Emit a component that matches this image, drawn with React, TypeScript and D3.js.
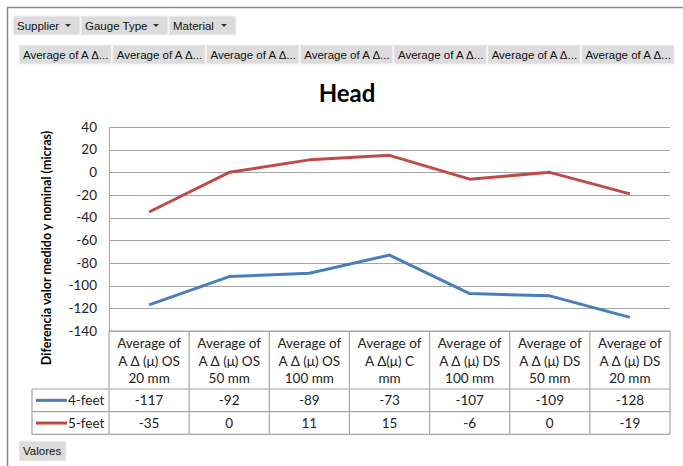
import React, { useEffect, useRef } from "react";
import * as d3 from "d3";

// chart data
const categories = [
  ["Average of", "A Δ (μ) OS", "20 mm"],
  ["Average of", "A Δ (μ) OS", "50 mm"],
  ["Average of", "A Δ (μ) OS", "100 mm"],
  ["Average of", "A Δ(μ) C", "mm"],
  ["Average of", "A Δ (μ) DS", "100 mm"],
  ["Average of", "A Δ (μ) DS", "50 mm"],
  ["Average of", "A Δ (μ) DS", "20 mm"],
];
const fourFeet = [-117, -92, -89, -73, -107, -109, -128];
const fiveFeet = [-35, 0, 11, 15, -6, 0, -19];
const yTicks = [40, 20, 0, -20, -40, -60, -80, -100, -120, -140];
const filterButtons = ["Supplier", "Gauge Type", "Material"];
const fieldButtons = Array(7).fill("Average of A Δ...");

const series = [
  { name: "4-feet", values: fourFeet, color: "#4a7ebb" },
  { name: "5-feet", values: fiveFeet, color: "#be4b48" },
];

const App = () => {
  const svgRef = useRef(null);
  const width = 683;
  const height = 466;

  useEffect(() => {
    const svg = d3.select(svgRef.current);
    svg.selectAll("*").remove();
    const font = "Lato, 'Liberation Sans', sans-serif";
    const grid = "#a6a6a6";

    svg.append("rect").attr("width", width).attr("height", height).attr("fill", "#fff");

    // outer frame (only top and left visible)
    svg.append("path")
      .attr("d", `M7.5,${height} V7.5 H${width}`)
      .attr("fill", "none")
      .attr("stroke", "#8c8c8c")
      .attr("stroke-width", 1.5);

    // pivot buttons
    const drawButton = (x, y, w, h, label, arrow) => {
      const g = svg.append("g");
      g.append("rect").attr("x", x).attr("y", y).attr("width", w).attr("height", h)
        .attr("fill", "#dcdcdc").attr("stroke", "#f4f4f4").attr("stroke-width", 1);
      g.append("text").attr("x", x + 4).attr("y", y + h / 2 + 4)
        .attr("font-family", "'Liberation Sans', sans-serif").attr("font-size", 11.5)
        .attr("fill", "#111").text(label);
      if (arrow) {
        const ax = x + w - 12;
        const ay = y + h / 2;
        g.append("path").attr("d", `M${ax - 3},${ay - 1.5} L${ax + 3},${ay - 1.5} L${ax},${ay + 1.5} Z`)
          .attr("fill", "#333");
      }
    };
    const filterX = [13, 81, 169];
    const filterW = [67, 87, 67];
    filterButtons.forEach((b, i) => drawButton(filterX[i], 16, filterW[i], 19, b, true));
    const fx = d3.scaleBand().domain(d3.range(7)).range([19, 674]).paddingInner(0.012);
    fieldButtons.forEach((b, i) => drawButton(fx(i), 45, fx.bandwidth(), 19, b, false));
    drawButton(19, 441, 47, 20, "Valores", false);

    // scales
    const x = d3.scaleBand().domain(d3.range(categories.length)).range([109, 670]);
    const y = d3.scaleLinear().domain([-140, 40]).range([331, 127]);

    // title
    svg.append("text").attr("x", 347).attr("y", 102).attr("text-anchor", "middle")
      .attr("font-family", font).attr("font-weight", "bold").attr("font-size", 24)
      .text("Head");

    // gridlines
    svg.append("g").selectAll("line").data(yTicks).join("line")
      .attr("x1", x.range()[0]).attr("x2", x.range()[1])
      .attr("y1", (d) => Math.round(y(d)) + 0.5).attr("y2", (d) => Math.round(y(d)) + 0.5)
      .attr("stroke", grid).attr("stroke-width", 1);
    svg.append("line")
      .attr("x1", x.range()[0] + 0.5).attr("x2", x.range()[0] + 0.5)
      .attr("y1", y(40)).attr("y2", y(-140))
      .attr("stroke", grid);

    // y tick labels
    svg.append("g").selectAll("text").data(yTicks).join("text")
      .attr("x", 97).attr("y", (d) => y(d) + 4.5).attr("text-anchor", "end")
      .attr("font-family", font).attr("font-size", 13.5).attr("fill", "#222")
      .text((d) => d);

    // y axis title
    svg.append("text")
      .attr("transform", "translate(51,248) rotate(-90)")
      .attr("text-anchor", "middle")
      .attr("font-family", font).attr("font-weight", "bold").attr("font-size", 12.5)
      .text("Diferencia valor medido y nominal (micras)");

    // lines
    const line = d3.line().x((d, i) => x(i) + x.bandwidth() / 2).y((d) => y(d));
    series.forEach((s) => {
      svg.append("path").datum(s.values).attr("d", line)
        .attr("fill", "none").attr("stroke", s.color).attr("stroke-width", 3)
        .attr("stroke-linejoin", "round");
    });

    // data table
    const top = 331;
    const headBottom = 389;
    const rowH = 22.7;
    const tableLeft = 32;
    const tg = svg.append("g").attr("stroke", grid).attr("stroke-width", 1.2).attr("fill", "none");
    // vertical lines for category columns
    d3.range(categories.length + 1).forEach((i) => {
      const xx = i < categories.length ? x(i) : x.range()[1];
      tg.append("line").attr("x1", xx).attr("x2", xx).attr("y1", top).attr("y2", headBottom + rowH * 2);
    });
    tg.append("line").attr("x1", x.range()[0]).attr("x2", x.range()[1]).attr("y1", top).attr("y2", top);
    [0, 1, 2].forEach((r) => {
      const yy = headBottom + rowH * r;
      tg.append("line").attr("x1", tableLeft).attr("x2", x.range()[1]).attr("y1", yy).attr("y2", yy);
    });
    tg.append("line").attr("x1", tableLeft).attr("x2", tableLeft).attr("y1", headBottom).attr("y2", headBottom + rowH * 2);

    // header text
    categories.forEach((lines, i) => {
      const t = svg.append("text").attr("text-anchor", "middle")
        .attr("font-family", font).attr("font-size", 13.5).attr("fill", "#222");
      lines.forEach((l, j) => {
        t.append("tspan").attr("x", x(i) + x.bandwidth() / 2).attr("y", 348 + j * 17.5).text(l);
      });
    });

    // rows
    series.forEach((s, r) => {
      const cy = headBottom + rowH * r + rowH / 2;
      svg.append("line").attr("x1", 36).attr("x2", 67).attr("y1", cy).attr("y2", cy)
        .attr("stroke", s.color).attr("stroke-width", 3);
      svg.append("text").attr("x", 68).attr("y", cy + 5)
        .attr("font-family", font).attr("font-size", 13.5).attr("fill", "#222").text(s.name);
      svg.append("g").selectAll("text").data(s.values).join("text")
        .attr("x", (d, i) => x(i) + x.bandwidth() / 2).attr("y", cy + 5)
        .attr("text-anchor", "middle")
        .attr("font-family", font).attr("font-size", 13.5).attr("fill", "#222")
        .text((d) => d);
    });
  }, []);

  return (
    <svg
      ref={svgRef}
      width={width}
      height={height}
      style={{ position: "absolute", left: 0, top: 0 }}
    ></svg>
  );
};

export default App;
